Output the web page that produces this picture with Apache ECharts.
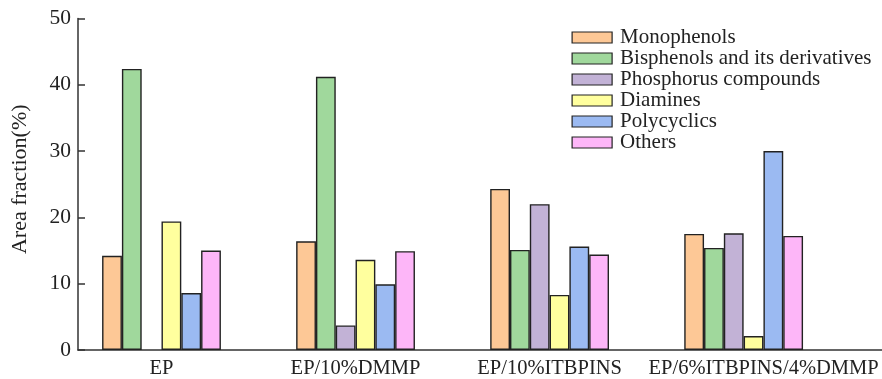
<!DOCTYPE html>
<html>
<head>
<meta charset="utf-8">
<script src="https://cdn.jsdelivr.net/npm/echarts@6/dist/echarts.min.js"></script>
<style>
  html, body { margin: 0; padding: 0; background: #fff; }
  #chart { width: 882px; height: 379px; }
</style>
</head>
<body>
<div id="chart"></div>
<script>
// Samples along the x axis
const categories = ['EP', 'EP/10%DMMP', 'EP/10%ITBPINS', 'EP/6%ITBPINS/4%DMMP'];

// Area fraction (%) of each pyrolysis product class per sample
const monophenols = [14.2, 16.4, 24.3, 17.5];
const bisphenols  = [42.4, 41.2, 15.1, 15.4];
const phosphorus  = [null, 3.7, 22.0, 17.6];
const diamines    = [19.4, 13.6, 8.3, 2.1];
const polycyclics = [8.6, 9.9, 15.6, 30.0];
const others      = [15.0, 14.9, 14.4, 17.2];

const seriesNames = ['Monophenols', 'Bisphenols and its derivatives', 'Phosphorus compounds',
                     'Diamines', 'Polycyclics', 'Others'];
const seriesValues = [monophenols, bisphenols, phosphorus, diamines, polycyclics, others];
const seriesColors = ['#FDC896', '#A0D89C', '#C2B2D6', '#FFFF9E', '#9BBAF2', '#FDB6F8'];

const yTicks = [0, 10, 20, 30, 40, 50];

const FONT = 'Liberation Serif';
const INK = '#222';

const chart = echarts.init(document.getElementById('chart'), null, { renderer: 'canvas' });

const series = seriesNames.map((name, s) => ({
  name,
  type: 'bar',
  barWidth: 19.8,
  barGap: '0%',
  data: categories.map((c, i) => [i, seriesValues[s][i] == null ? '-' : seriesValues[s][i]]),
  itemStyle: { color: seriesColors[s], borderColor: INK, borderWidth: 1.4 }
}));

chart.setOption({
  animation: false,
  backgroundColor: '#fff',
  textStyle: { fontFamily: FONT, color: INK },
  grid: { left: 78, right: 0, top: 18.5, bottom: 27.5, containLabel: false },
  legend: {
    orient: 'vertical',
    left: 571.5,
    top: 27,
    padding: 0,
    itemWidth: 40,
    itemHeight: 11,
    itemGap: 0,
    icon: 'rect',
    data: seriesNames,
    itemStyle: { borderColor: INK, borderWidth: 1.2 },
    textStyle: { fontFamily: FONT, fontSize: 21, lineHeight: 21, color: INK, padding: [0, 0, 0, 3] }
  },
  xAxis: {
    type: 'value',
    min: -0.4303,
    max: 3.713,
    axisLine: { show: true, onZero: false, lineStyle: { color: '#333', width: 1.5 } },
    axisTick: { show: false },
    splitLine: { show: false },
    axisLabel: {
      customValues: categories.map((c, i) => i),
      // the longest sample name sits a little to the right of its group
      formatter: v => {
        const i = Math.round(v);
        return i === categories.length - 1 ? '{last|' + categories[i] + '}' : (categories[i] || '');
      },
      rich: { last: { fontFamily: FONT, fontSize: 20.5, color: INK, padding: [0, 0, 0, 40] } },
      fontFamily: FONT,
      fontSize: 20.5,
      color: INK,
      margin: 8
    }
  },
  yAxis: {
    type: 'value',
    min: yTicks[0],
    max: yTicks[yTicks.length - 1],
    interval: 10,
    name: 'Area fraction(%)',
    nameLocation: 'middle',
    nameGap: 47,
    nameTextStyle: { fontFamily: FONT, fontSize: 22, color: INK, padding: [0, 0, 0, 10] },
    axisLine: { show: true, onZero: false, lineStyle: { color: '#333', width: 1.5 } },
    axisTick: { show: true, inside: true, length: 7, lineStyle: { color: '#333', width: 1.5 } },
    splitLine: { show: false },
    axisLabel: { fontFamily: FONT, fontSize: 21.5, color: INK, margin: 7 }
  },
  series
});
</script>
</body>
</html>
